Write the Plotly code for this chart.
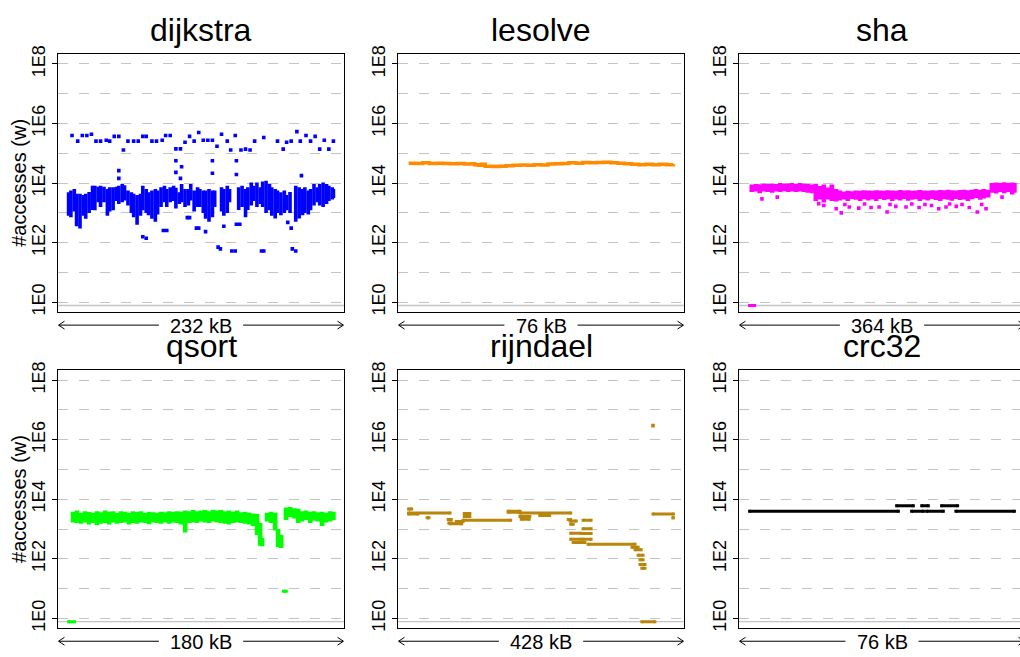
import numpy as np
import plotly.graph_objects as go

W, H = 1020, 657
FONT = "Liberation Sans, Arial, Helvetica, sans-serif"

# ---------------- panel meta ----------------
panel_names = ["dijkstra", "lesolve", "sha", "qsort", "rijndael", "crc32"]
panel_sizes_kb = [232, 76, 364, 180, 428, 76]
panel_colors = ["#0000FF", "#FF8C00", "#FF00FF", "#00FF00", "#B8860B", "#000000"]
ytick_vals = [1, 1e2, 1e4, 1e6, 1e8]
ytick_text = ["1E0", "1E2", "1E4", "1E6", "1E8"]
yminor_vals = [10, 1e3, 1e5, 1e7]
y_title = "#accesses (w)"

# All access counts below are given as log10(#accesses); x is the address offset in kB.

# ---------------- dijkstra ----------------
dij_x = [0, 2, 5, 7, 10, 13, 15, 18, 21, 23,
         26, 28, 31, 34, 36, 39, 42, 44, 47, 49,
         52, 55, 57, 60, 63, 65, 68, 70, 73, 76,
         78, 81, 84, 86, 89, 92, 94, 97, 99, 102,
         105, 107, 110, 113, 115, 118, 120, 123, 126, 128,
         134, 136, 139, 141, 149, 152, 155, 157, 160, 162,
         165, 168, 170, 173, 176, 178, 181, 183, 186, 189,
         191, 194, 199, 202, 205, 207, 210, 212, 215, 218,
         220, 223, 226, 228, 231, 232]
dij_hi = [3.69, 3.75, 3.80, 3.64, 3.64, 3.60, 3.64, 3.70, 3.91, 3.91,
          3.88, 3.91, 3.88, 3.80, 3.86, 3.86, 3.88, 3.91, 3.97, 3.93,
          3.75, 3.69, 3.64, 3.60, 3.64, 3.91, 3.80, 3.69, 3.75, 3.80,
          3.75, 3.86, 3.91, 3.80, 3.86, 3.91, 3.84, 3.69, 3.97, 3.80,
          3.80, 3.97, 3.75, 3.86, 3.80, 3.75, 3.75, 3.80, 3.75, 3.75,
          3.86, 3.80, 3.91, 3.80, 3.86, 3.91, 3.80, 3.86, 4.02, 3.91,
          4.02, 3.86, 4.05, 4.08, 3.97, 3.86, 3.80, 3.75, 3.69, 3.75,
          3.60, 3.70, 3.91, 3.86, 3.80, 3.86, 3.75, 3.80, 3.97, 3.86,
          3.97, 4.02, 3.97, 3.91, 3.86, 3.80]
dij_lo = [2.90, 2.85, 3.05, 2.55, 2.48, 2.90, 2.80, 3.00, 3.10, 3.09,
          3.36, 3.20, 3.36, 2.90, 3.05, 3.09, 3.40, 3.30, 3.36, 3.42,
          3.25, 3.00, 2.85, 2.60, 2.90, 3.09, 3.00, 2.92, 2.80, 2.70,
          2.95, 3.20, 3.36, 3.20, 3.36, 3.40, 3.15, 3.30, 3.36, 3.20,
          3.25, 3.42, 3.05, 3.20, 3.20, 3.00, 2.80, 2.70, 2.85, 3.20,
          3.05, 2.90, 3.00, 3.36, 3.10, 3.20, 2.85, 3.10, 3.25, 3.40,
          3.20, 3.30, 3.20, 3.00, 3.09, 2.90, 2.81, 3.00, 2.92, 3.00,
          3.09, 3.00, 2.70, 2.81, 2.92, 3.00, 2.95, 3.09, 3.25, 3.36,
          3.25, 3.20, 3.30, 3.40, 3.45, 3.50]
dij_pt_x = [3, 8, 12, 16, 20, 24, 28, 33, 36, 40,
            44, 48, 52, 57, 61, 65, 68, 73, 77, 82,
            85, 89, 94, 98, 102, 106, 110, 114, 118, 122,
            126, 130, 134, 139, 142, 146, 151, 155, 159, 163,
            171, 183, 188, 191, 195, 200, 203, 208, 212, 216,
            220, 224, 228, 232,
            44, 44, 94, 94, 99, 98, 126, 126, 147, 147, 204,
            65, 68, 131, 133, 143, 146, 169, 171, 196, 199,
            112, 120, 147, 150, 104, 106, 136, 195, 83, 86,
            114, 192]
dij_pt_y = [5.60, 5.41, 5.60, 5.60, 5.64, 5.41, 5.41, 5.44, 5.41, 5.57,
            5.57, 5.11, 5.41, 5.41, 5.41, 5.57, 5.57, 5.41, 5.41, 5.44,
            5.60, 5.60, 5.15, 5.15, 5.37, 5.57, 5.41, 5.70, 5.44, 5.44,
            5.44, 5.24, 5.64, 5.41, 5.11, 5.60, 5.11, 5.14, 5.11, 5.41,
            5.53, 5.41, 5.14, 5.37, 5.41, 5.73, 5.41, 5.60, 5.41, 5.57,
            5.14, 5.44, 5.14, 5.41,
            4.42, 4.16, 4.75, 4.36, 4.55, 4.16, 4.75, 4.33, 4.75, 4.29, 4.25,
            2.20, 2.15, 1.85, 1.79, 1.72, 1.72, 1.72, 1.72, 1.79, 1.72,
            2.49, 2.37, 2.62, 2.62, 2.84, 2.84, 2.55, 2.49, 2.41, 2.41,
            2.49, 2.68]

# ---------------- lesolve ----------------
les_x = [0, 2, 4, 6, 8, 10, 12, 14, 16, 18,
         19, 20, 21,
         22, 24, 26, 28, 30, 32, 34, 36, 38, 40,
         42, 44, 46, 48, 50, 52, 54, 56, 58, 60,
         62, 64, 66, 68, 70, 72, 74, 76]
les_y = [4.67, 4.66, 4.68, 4.66, 4.67, 4.66, 4.65, 4.66, 4.64, 4.65,
         4.62, 4.60, 4.63,
         4.57, 4.56, 4.57, 4.58, 4.60, 4.61, 4.60, 4.62, 4.61, 4.64,
         4.65, 4.66, 4.68, 4.67, 4.69, 4.68, 4.69, 4.70, 4.68, 4.67,
         4.65, 4.63, 4.62, 4.63, 4.62, 4.63, 4.62, 4.63]

# ---------------- sha ----------------
sha_x = [3, 9, 14, 20, 25, 31, 36, 42, 47, 53, 58, 64, 69, 75, 80, 86,
         91, 97, 102, 108, 113, 119,
         124, 130, 135, 141, 146, 152, 157, 163, 168, 174,
         179, 185, 190, 196, 201, 207, 212, 218, 223, 229,
         234, 240, 245, 251, 256, 262, 267, 273, 278, 284,
         289, 295, 300, 306, 311, 317, 322, 328,
         333, 339, 344, 350, 355, 361, 364]
sha_hi = [3.95, 3.97, 3.96, 3.98, 3.97, 3.99, 3.97, 4.00, 3.98, 3.99, 4.00, 3.98, 4.00, 3.98, 3.97, 3.95,
          3.98, 3.90, 3.95, 3.85, 3.95, 3.80,
          3.75, 3.72, 3.74, 3.73, 3.75, 3.74, 3.76, 3.75, 3.74, 3.76,
          3.75, 3.74, 3.76, 3.75, 3.74, 3.77, 3.75, 3.76, 3.74, 3.75,
          3.77, 3.75, 3.74, 3.76, 3.75, 3.77, 3.76, 3.78, 3.76, 3.75,
          3.77, 3.78, 3.76, 3.78, 3.80, 3.78, 3.80, 3.78,
          4.00, 4.02, 4.00, 4.03, 4.00, 4.02, 4.00]
sha_lo = [3.70, 3.72, 3.66, 3.72, 3.70, 3.68, 3.72, 3.70, 3.73, 3.70, 3.72, 3.70, 3.72, 3.70, 3.68, 3.66,
          3.40, 3.45, 3.35, 3.45, 3.40, 3.38,
          3.42, 3.45, 3.40, 3.47, 3.44, 3.40, 3.46, 3.42, 3.45, 3.40,
          3.47, 3.43, 3.46, 3.40, 3.45, 3.42, 3.47, 3.41, 3.44, 3.46,
          3.40, 3.45, 3.42, 3.47, 3.43, 3.40, 3.46, 3.44, 3.41, 3.47,
          3.43, 3.45, 3.40, 3.46, 3.50, 3.44, 3.48, 3.52,
          3.68, 3.65, 3.70, 3.66, 3.70, 3.62, 3.68]
sha_pt_x = [17, 38, 95, 102, 119, 126, 131, 137, 150, 158,
            167, 178, 189, 193, 201, 215, 223, 233, 241, 250,
            260, 270, 275, 284, 292, 302, 313, 319, 325, 347]
sha_pt_y = [3.47, 3.53, 3.31, 3.25, 3.14, 3.00, 3.28, 3.20, 3.16, 3.30,
            3.18, 3.20, 3.03, 3.28, 3.22, 3.20, 3.30, 3.18, 3.28, 3.25,
            3.14, 3.20, 3.30, 3.22, 3.28, 3.18, 3.03, 3.28, 3.14, 3.53]
sha_seg_x0 = [0]
sha_seg_x1 = [7]
sha_seg_y = [-0.11]

# ---------------- qsort ----------------
qs_x = [3, 5.7, 8.4, 11.2, 13.9, 16.6, 19.3, 22.0, 24.8, 27.5,
        30.2, 32.9, 35.6, 38.4, 41.1, 43.8, 46.5, 49.2, 52.0, 54.7,
        57.4, 60.1, 62.8, 65.6, 68.3, 71.0, 73.7, 76.4, 79.2, 81.9,
        84.6, 87.3, 90.0, 92.8, 95.5, 98.2, 100.9, 103.6, 106.4, 109.1,
        111.8, 114.5, 117.2, 120.0, 122.7, 125.4, 128.1,
        130.2, 131.5, 134.9, 137.6, 140.4, 142.4, 144.4,
        147.8, 150.6, 153.3, 156.0, 158.7, 161.4, 164.2, 166.9, 169.6, 172.3,
        175.0, 177.8, 180]
qs_hi = [3.58, 3.62, 3.55, 3.60, 3.57, 3.55, 3.60, 3.56, 3.62, 3.58,
         3.60, 3.55, 3.60, 3.58, 3.55, 3.60, 3.57, 3.60, 3.55, 3.58,
         3.56, 3.55, 3.58, 3.56, 3.60, 3.58, 3.60, 3.58, 3.62, 3.60,
         3.64, 3.60, 3.62, 3.64, 3.60, 3.65, 3.62, 3.64, 3.60, 3.62,
         3.58, 3.62, 3.56, 3.58, 3.55, 3.52, 3.50,
         3.20, 2.70, 3.55, 3.58, 3.55, 3.00, 2.80,
         3.72, 3.74, 3.70, 3.68, 3.60, 3.62, 3.58, 3.60, 3.56, 3.58,
         3.55, 3.60, 3.58]
qs_lo = [3.22, 3.20, 3.18, 3.22, 3.15, 3.20, 3.13, 3.18, 3.20, 3.15,
         3.22, 3.18, 3.20, 3.22, 3.15, 3.20, 3.18, 3.22, 3.20, 3.16,
         3.22, 3.20, 3.18, 3.22, 3.18, 3.22, 3.20, 3.15, 2.88, 3.20,
         3.22, 3.20, 3.25, 3.22, 3.20, 3.25, 3.22, 3.20, 3.18, 3.15,
         3.20, 3.22, 3.20, 3.18, 3.15, 3.10, 2.80,
         2.44, 2.42, 3.25, 3.20, 2.95, 2.40, 2.36,
         3.30, 3.40, 3.35, 3.20, 3.25, 3.30, 3.20, 3.28, 3.25, 3.10,
         3.22, 3.25, 3.30]
qs_seg_x0 = [0, 146]
qs_seg_x1 = [4, 148]
qs_seg_y = [-0.11, 0.91]

# ---------------- rijndael ----------------
rij_seg_x0 = [0, 0, 0, 30, 64, 65, 67, 77, 90, 90,
              88, 161, 161, 180, 182, 180, 212, 258, 261, 262,
              262, 282, 282, 282, 262, 282, 266, 290, 361, 366,
              371, 374, 374, 377, 377, 395, 427]
rij_seg_x1 = [67, 5, 15, 33, 69, 70, 86, 88, 99, 99,
              165, 180, 180, 196, 195, 262, 228, 262, 271, 266,
              279, 295, 295, 295, 279, 295, 285, 366, 371, 376,
              379, 379, 382, 382, 398, 428, 428]
rij_seg_y = [3.54, 3.67, 3.50, 3.38, 3.32, 3.20, 3.18, 3.25, 3.52, 3.42,
             3.29, 3.60, 3.56, 3.42, 3.33, 3.54, 3.45, 3.32, 3.27, 3.16,
             2.86, 3.29, 3.01, 2.85, 2.66, 2.66, 2.55, 2.49, 2.39, 2.30,
             2.12, 1.97, 1.81, 1.68, -0.11, 3.50, 3.38]
rij_pt_x = [395]
rij_pt_y = [6.47]

# ---------------- crc32 ----------------
crc_seg_x0 = [0, 42.2, 46.5, 49.4, 50.8, 55.1, 59.2]
crc_seg_x1 = [42.7, 47.0, 49.9, 51.3, 55.6, 59.7, 76]
crc_seg_y = [3.60, 3.78, 3.60, 3.78, 3.60, 3.78, 3.60]


def vsegments(x, lo, hi):
    xs, ys = [], []
    for a, l, h in zip(x, lo, hi):
        xs += [a, a, None]
        ys += [10 ** l, 10 ** h, None]
    return xs, ys


def hsegments(x0, x1, y):
    xs, ys = [], []
    for a, b, v in zip(x0, x1, y):
        xs += [a, b, None]
        ys += [10 ** v, 10 ** v, None]
    return xs, ys


# approximate Liberation Sans advance widths (em) for the size labels
CHAR_W = {" ": 0.278, "k": 0.5, "B": 0.667}


def text_width(s, size):
    return sum(CHAR_W.get(ch, 0.556) for ch in s) * size


fig = go.Figure()

col_px = [(58, 344), (398, 684), (739, 1020)]
row_px = [(46, 309), (368, 631)]
FULLW = 286
YLOG = (-0.34, 8.33)
GRID = "#c4c4c4"
DASH = "10px,11px"
TITLE_SIZE = 32
LABEL_SIZE = 20
TICK_SIZE = 18


def ax_names(i):
    s = "" if i == 0 else str(i + 1)
    return "x" + s, "y" + s, "xaxis" + s, "yaxis" + s


def add_band(i, x, lo, hi, width):
    xr, yr, _, _ = ax_names(i)
    xs, ys = vsegments(x, lo, hi)
    fig.add_trace(go.Scatter(x=xs, y=ys, mode="lines", xaxis=xr, yaxis=yr,
                             line=dict(color=panel_colors[i], width=width),
                             hoverinfo="skip"))


def add_points(i, x, y, size=3.6):
    xr, yr, _, _ = ax_names(i)
    fig.add_trace(go.Scatter(x=x, y=[10 ** v for v in y], mode="markers",
                             xaxis=xr, yaxis=yr,
                             marker=dict(color=panel_colors[i], size=size,
                                         symbol="square", line=dict(width=0))))


def add_hsegs(i, x0, x1, y, width=3):
    xr, yr, _, _ = ax_names(i)
    xs, ys = hsegments(x0, x1, y)
    fig.add_trace(go.Scatter(x=xs, y=ys, mode="lines+markers", xaxis=xr, yaxis=yr,
                             line=dict(color=panel_colors[i], width=width),
                             marker=dict(color=panel_colors[i], size=3,
                                         symbol="square", line=dict(width=0))))


# dijkstra
add_band(0, dij_x, dij_lo, dij_hi, 3.6)
add_points(0, dij_pt_x, dij_pt_y)
# lesolve
fig.add_trace(go.Scatter(x=les_x, y=[10 ** v for v in les_y], mode="lines",
                         line=dict(color=panel_colors[1], width=3.5, shape="hv"),
                         xaxis="x2", yaxis="y2"))
# sha
add_band(2, sha_x, sha_lo, sha_hi, 4.6)
add_points(2, sha_pt_x, sha_pt_y)
add_hsegs(2, sha_seg_x0, sha_seg_x1, sha_seg_y)
# qsort
add_band(3, qs_x, qs_lo, qs_hi, 4.6)
add_hsegs(3, qs_seg_x0, qs_seg_x1, qs_seg_y)
# rijndael
add_hsegs(4, rij_seg_x0, rij_seg_x1, rij_seg_y)
add_points(4, rij_pt_x, rij_pt_y)
# crc32
add_hsegs(5, crc_seg_x0, crc_seg_x1, crc_seg_y)

layout = dict(width=W, height=H, margin=dict(l=0, r=0, t=0, b=0), autosize=False,
              paper_bgcolor="white", plot_bgcolor="white", showlegend=False,
              font=dict(family=FONT, color="black"))
annotations = []
shapes = []

for i in range(6):
    r, c = divmod(i, 3)
    l, rr = col_px[c]
    t, b = row_px[r]
    N = panel_sizes_kb[i]
    x0 = -0.04 * N
    x1 = x0 + 1.08 * N * (rr - l) / FULLW
    xr, yr, xk, yk = ax_names(i)
    layout[xk] = dict(domain=[l / W, rr / W], range=[x0, x1], anchor=yr,
                      showticklabels=False, ticks="", showgrid=False, zeroline=False,
                      showline=True, mirror=True, linecolor="black", linewidth=1)
    layout[yk] = dict(domain=[1 - b / H, 1 - t / H], type="log", range=list(YLOG),
                      anchor=xr, tickvals=ytick_vals, ticktext=ytick_text,
                      tickangle=-90, ticks="outside", ticklen=5, tickwidth=1,
                      tickcolor="black",
                      tickfont=dict(size=TICK_SIZE, family=FONT, color="black"),
                      showline=True, mirror=(c < 2), linecolor="black", linewidth=1,
                      showgrid=True, gridcolor=GRID, gridwidth=1.3, griddash=DASH,
                      zeroline=False,
                      minor=dict(tickvals=yminor_vals, showgrid=True, gridcolor=GRID,
                                 gridwidth=1.3, griddash=DASH, ticks=""))
    # solid reference line just below 1E0
    yd = (-0.11 - YLOG[0]) / (YLOG[1] - YLOG[0])
    shapes.append(dict(type="line", xref=xr + " domain", yref=yr + " domain",
                       x0=0, x1=1, y0=yd, y1=yd, layer="below",
                       line=dict(color="#c4c4c4", width=1.3)))
    cx = (l + l + FULLW) / 2
    # title
    annotations.append(dict(text=panel_names[i], x=cx / W, y=1 - (t - 24.5) / H,
                            xref="paper", yref="paper", showarrow=False,
                            xanchor="center", yanchor="middle",
                            font=dict(size=TITLE_SIZE, family=FONT, color="black")))
    # size arrow: two line pieces either side of the label, open arrow heads
    ay = b + 13
    label = "{} kB".format(N)
    half = text_width(label, LABEL_SIZE) / 2 + 11
    for xa, xb in ((l + 1, cx - half), (cx + half, l + FULLW - 1)):
        shapes.append(dict(type="line", xref="paper", yref="paper",
                           x0=xa / W, x1=xb / W, y0=1 - ay / H, y1=1 - ay / H,
                           line=dict(color="black", width=1)))
    for tip, d in ((l + 0.5, 1), (l + FULLW - 0.5, -1)):
        path = "M {:.5f},{:.5f} L {:.5f},{:.5f} L {:.5f},{:.5f}".format(
            (tip + 6 * d) / W, 1 - (ay - 4) / H, tip / W, 1 - ay / H,
            (tip + 6 * d) / W, 1 - (ay + 4) / H)
        shapes.append(dict(type="path", xref="paper", yref="paper", path=path,
                           line=dict(color="black", width=1)))
    annotations.append(dict(text=label, x=cx / W, y=1 - (ay + 0.5) / H,
                            xref="paper", yref="paper", showarrow=False,
                            xanchor="center", yanchor="middle", borderpad=0,
                            font=dict(size=LABEL_SIZE, family=FONT, color="black")))
    if c == 0:
        annotations.append(dict(text=y_title, x=19.5 / W, y=1 - (t + b) / 2 / H,
                                xref="paper", yref="paper", showarrow=False,
                                textangle=-90, xanchor="center", yanchor="middle",
                                borderpad=0,
                                font=dict(size=LABEL_SIZE, family=FONT, color="black")))

layout["annotations"] = annotations
layout["shapes"] = shapes
fig.update_layout(**layout)
fig.write_html("out.html")
